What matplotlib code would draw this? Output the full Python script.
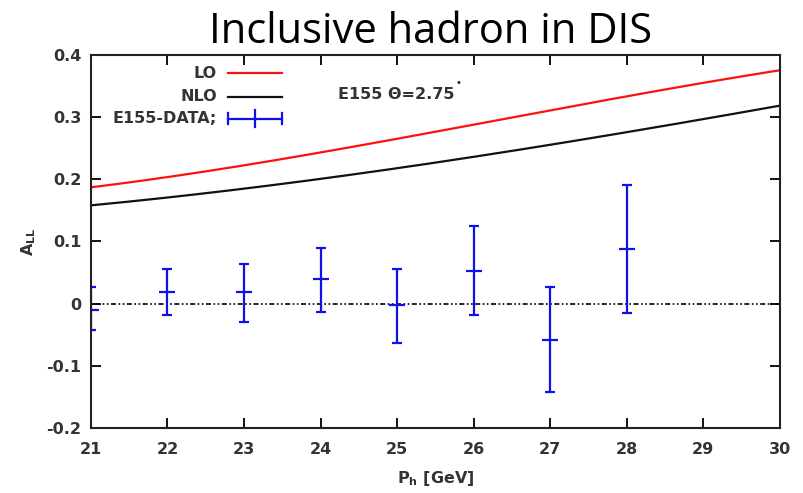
import matplotlib
matplotlib.use("Agg")
import matplotlib.pyplot as plt
from matplotlib.lines import Line2D
import numpy as np

# --- data ---
x_curve = [21, 22, 23, 24, 25, 26, 27, 28, 29, 30]
lo_vals = [0.187, 0.203, 0.222, 0.243, 0.265, 0.288, 0.310, 0.333, 0.355, 0.375]
nlo_vals = [0.158, 0.170, 0.185, 0.200, 0.218, 0.236, 0.255, 0.275, 0.297, 0.318]

x_data = [21, 22, 23, 24, 25, 26, 27, 28]
y_data = [-0.010, 0.018, 0.018, 0.039, -0.003, 0.053, -0.058, 0.087]
y_hi = [0.026, 0.056, 0.063, 0.090, 0.056, 0.125, 0.026, 0.190]
y_lo = [-0.042, -0.019, -0.029, -0.013, -0.064, -0.019, -0.142, -0.016]

x_ticks = [21, 22, 23, 24, 25, 26, 27, 28, 29, 30]
y_ticks = [-0.2, -0.1, 0, 0.1, 0.2, 0.3, 0.4]
y_tick_labels = ["-0.2", "-0.1", "0", "0.1", "0.2", "0.3", "0.4"]

legend_labels = ["LO", "NLO", "E155-DATA;"]
title = "Inclusive hadron in DIS"

blue = "#1010ee"
red = "#ff1010"
dark = "#111111"
txt = "#333333"
FS = 11.5

fig = plt.figure(figsize=(8.04, 4.93), dpi=100)
ax = fig.add_axes([0.113, 0.132, 0.857, 0.757])

xs = np.linspace(21, 30, 200)
lo_s = np.polyval(np.polyfit(x_curve, lo_vals, 3), xs)
nlo_s = np.polyval(np.polyfit(x_curve, nlo_vals, 3), xs)
ax.plot(xs, lo_s, color=red, lw=1.6)
ax.plot(xs, nlo_s, color=dark, lw=1.6)

ax.axhline(0, color="black", lw=1.2, linestyle=(0, (1, 1.5, 3, 1.5, 1, 1.5)))

yd = np.array(y_data)
yerr = [yd - np.array(y_lo), np.array(y_hi) - yd]
ax.errorbar(x_data, y_data, yerr=yerr, fmt="_", color=blue, ms=11, mew=1.6,
            elinewidth=1.6, capsize=3.3, capthick=1.6)

# gnuplot-style key (text right-aligned, sample to the right)
rows_y = [0.950, 0.888, 0.829]
tx, lx0, lx1 = 0.183, 0.199, 0.277
colors = [red, dark, blue]
T = ax.transAxes
for lab, yy, c in zip(legend_labels, rows_y, colors):
    ax.text(tx, yy, lab, transform=T, ha="right", va="center", fontsize=FS,
            fontweight="bold", color=txt)
    ax.add_line(Line2D([lx0, lx1], [yy, yy], color=c, lw=1.6, transform=T))
yy = rows_y[2]
for xx, h in [(lx0, 0.014), (lx1, 0.014), ((lx0 + lx1) / 2, 0.022)]:
    ax.add_line(Line2D([xx, xx], [yy - h, yy + h], color=blue, lw=1.6, transform=T))

ax.text(0.358, 0.894, "E155 \u0398=2.75", transform=T,
        fontsize=FS, fontweight="bold", color=txt, va="center", ha="left")
ax.text(0.534, 0.925, "\u2022", transform=T, fontsize=7,
        color="#222222", va="center", ha="center")

ax.set_xlim(21, 30)
ax.set_ylim(-0.2, 0.4)
ax.set_xticks(x_ticks)
ax.set_yticks(y_ticks)
ax.set_yticklabels(y_tick_labels)
ax.tick_params(direction="in", top=True, right=True, length=7, width=1.3,
               labelsize=FS, labelcolor=txt)
ax.tick_params(axis="x", pad=10)
ax.tick_params(axis="y", pad=7)
for lab in ax.get_xticklabels() + ax.get_yticklabels():
    lab.set_fontweight("bold")
for s in ax.spines.values():
    s.set_linewidth(1.5)
    s.set_color("#222222")

ax.set_xlabel("P$_\\mathregular{h}$ [GeV]", fontsize=FS, fontweight="bold",
              color=txt, labelpad=9)
ax.set_ylabel("A$_\\mathregular{LL}$", fontsize=FS, fontweight="bold",
              color=txt, labelpad=6)

fig.text(0.536, 0.913, title, ha="center", va="baseline", fontsize=30,
         family="Open Sans", color="black")

fig.savefig("out.png", dpi=100)
